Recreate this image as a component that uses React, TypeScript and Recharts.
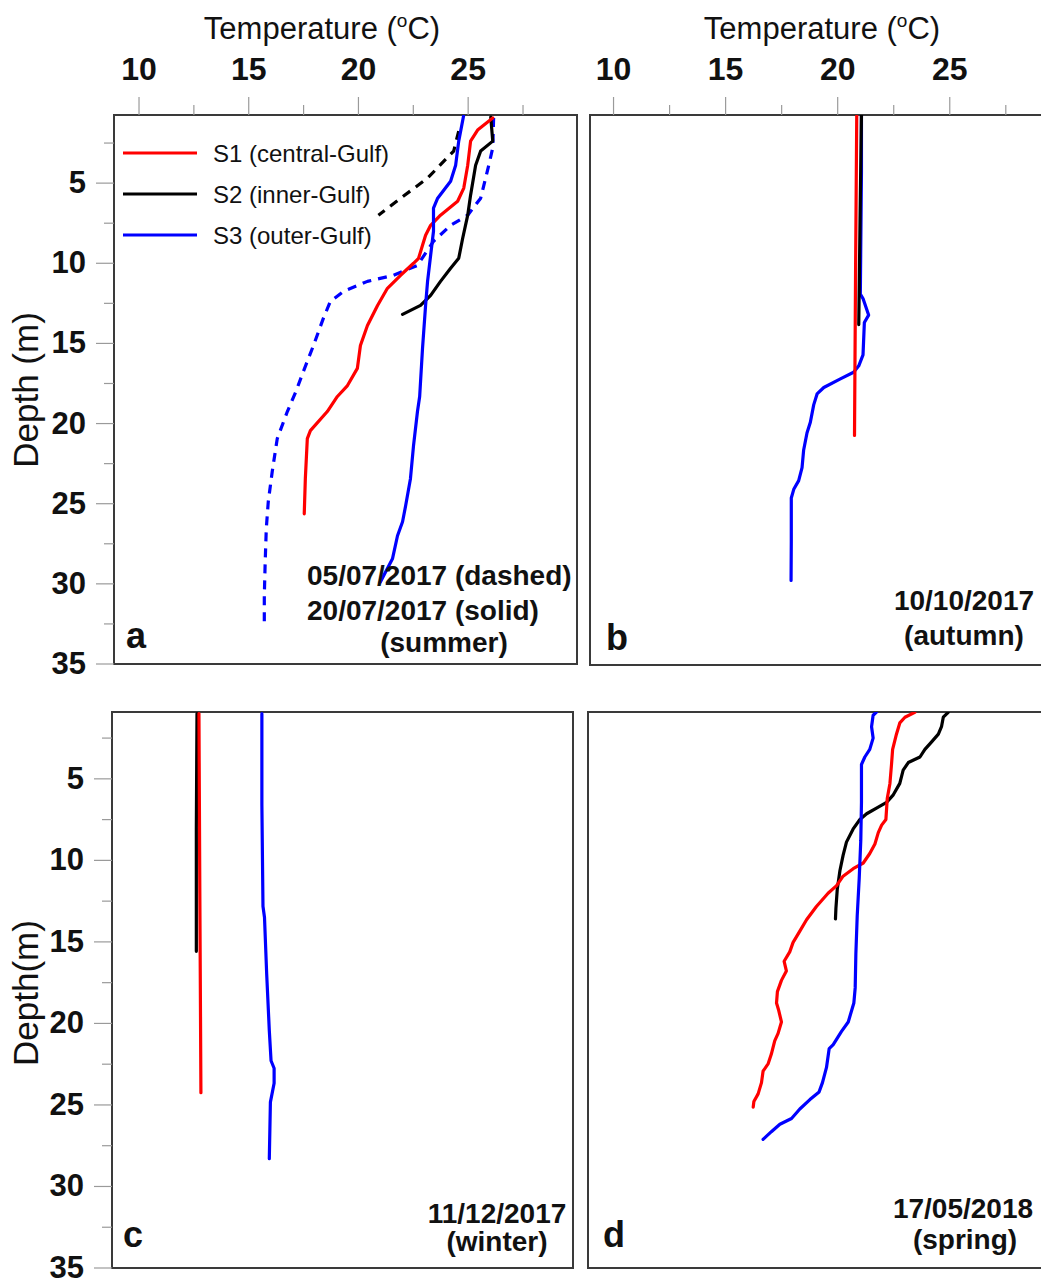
import React from "react";
import { ScatterChart, Scatter, XAxis, YAxis, ReferenceArea } from "recharts";

// temperature (°C), depth (m) pairs
const julS1Solid: [number, number][] = [
  [26.12, 0.94], [25.43, 1.69], [25.11, 2.38], [24.98, 3.88], [24.8, 5.31], [24.52, 6.13], [23.74, 7.0],
  [23.29, 7.63], [23.06, 8.25], [22.92, 8.88], [22.74, 9.69], [22.51, 10.0], [21.92, 10.75], [21.32, 11.56],
  [20.87, 12.63], [20.41, 13.88], [20.09, 15.13], [19.95, 16.56], [19.5, 17.63], [19.04, 18.31], [18.58, 19.25],
  [17.81, 20.44], [17.67, 20.94], [17.58, 23.44], [17.53, 25.63],
];
const julS2Solid: [number, number][] = [
  [26.03, 0.88], [26.12, 2.38], [25.57, 3.0], [25.34, 3.88], [25.11, 5.75], [24.98, 7.0], [24.75, 8.44],
  [24.57, 9.69], [24.2, 10.31], [23.74, 11.13], [23.29, 12.0], [22.83, 12.63], [22.01, 13.19],
];
const julS3Solid: [number, number][] = [
  [24.79, 0.81], [24.57, 2.38], [24.43, 3.88], [24.2, 4.88], [23.61, 5.94], [23.42, 6.56], [23.42, 8.0],
  [23.29, 9.5], [23.15, 11.13], [23.06, 12.63], [22.92, 15.31], [22.79, 18.31], [22.69, 19.25], [22.51, 21.38],
  [22.37, 23.44], [22.15, 25.13], [22.01, 26.13], [21.78, 27.0], [21.55, 28.44], [21.0, 29.88],
];
const julS2Dashed: [number, number][] = [
  [24.57, 1.75], [24.34, 3.0], [23.15, 4.69], [21.92, 5.94], [20.91, 7.0],
];
const julS3Dashed: [number, number][] = [
  [26.16, 0.94], [26.12, 2.81], [25.94, 3.88], [25.57, 5.94], [24.98, 7.0], [24.2, 7.63], [23.42, 8.63],
  [22.69, 10.13], [21.6, 10.75], [20.41, 11.13], [19.32, 11.75], [18.72, 12.38], [18.4, 13.44], [17.95, 15.13],
  [17.49, 16.75], [17.15, 18.0], [16.76, 19.25], [16.3, 20.94], [16.07, 23.0], [15.89, 24.88], [15.8, 26.56],
  [15.75, 28.63], [15.71, 30.75], [15.71, 32.5],
];

const octS1: [number, number][] = [[20.85, 0.8], [20.8, 10.0], [20.75, 20.7]];
const octS2: [number, number][] = [[21.06, 0.75], [21.0, 7.0], [20.94, 13.8]];
const octS3: [number, number][] = [
  [21.06, 0.75], [21.06, 4.35], [21.01, 11.91], [21.13, 12.18], [21.38, 13.21], [21.19, 13.67], [21.13, 15.69],
  [20.94, 16.37], [20.71, 16.77], [20.12, 17.18], [19.38, 17.72], [19.08, 18.12], [18.93, 18.8], [18.78, 19.88],
  [18.63, 20.55], [18.48, 21.63], [18.41, 22.71], [18.26, 23.52], [18.04, 24.06], [17.93, 24.6], [17.93, 27.3],
  [17.92, 29.73],
];

const decS1: [number, number][] = [[12.84, 1.0], [12.88, 12.0], [12.93, 24.25]];
const decS2: [number, number][] = [[12.75, 1.0], [12.72, 8.0], [12.72, 15.58]];
const decS3: [number, number][] = [
  [15.72, 1.0], [15.72, 6.57], [15.77, 12.81], [15.84, 13.5], [15.94, 16.97], [16.06, 20.44], [16.14, 22.29],
  [16.28, 22.75], [16.28, 23.67], [16.11, 24.83], [16.06, 28.3],
];

const mayS1: [number, number][] = [
  [23.58, 0.92], [23.14, 1.22], [22.91, 1.57], [22.76, 2.26], [22.59, 3.19], [22.54, 4.12], [22.47, 5.28],
  [22.35, 6.21], [22.29, 7.49], [22.1, 7.84], [21.95, 8.3], [21.8, 9.0], [21.57, 9.58], [21.28, 10.16],
  [20.83, 10.51], [20.38, 10.97], [20.09, 11.55], [19.71, 12.02], [19.19, 12.83], [18.75, 13.64], [18.45, 14.34],
  [18.15, 15.03], [18.0, 15.61], [17.75, 16.19], [17.85, 16.78], [17.63, 17.36], [17.45, 18.05], [17.41, 18.75],
  [17.51, 19.21], [17.63, 19.91], [17.48, 20.61], [17.33, 21.07], [17.18, 21.88], [17.04, 22.46], [16.81, 22.93],
  [16.74, 23.63], [16.59, 24.32], [16.4, 24.79], [16.37, 25.13],
];
const mayS2: [number, number][] = [
  [25.07, 0.92], [24.85, 1.22], [24.77, 1.8], [24.63, 2.26], [24.33, 2.73], [24.03, 3.19], [23.81, 3.66],
  [23.29, 4.0], [23.06, 4.47], [22.91, 5.28], [22.62, 5.98], [22.32, 6.44], [21.87, 6.79], [21.43, 7.14],
  [21.13, 7.49], [20.83, 8.07], [20.53, 8.88], [20.38, 9.69], [20.24, 10.62], [20.12, 11.78], [20.06, 12.94],
  [20.04, 13.59],
];
const mayS3: [number, number][] = [
  [21.87, 0.9], [21.72, 1.1], [21.65, 1.8], [21.72, 2.5], [21.57, 3.19], [21.35, 3.66], [21.2, 4.12],
  [21.2, 6.44], [21.17, 8.76], [21.1, 11.09], [21.01, 13.41], [20.95, 15.73], [20.92, 17.82], [20.86, 18.75],
  [20.61, 19.91], [20.31, 20.49], [19.94, 21.3], [19.76, 21.54], [19.64, 22.7], [19.46, 23.63], [19.31, 24.2],
  [18.9, 24.67], [18.45, 25.25], [18.08, 25.83], [17.56, 26.18], [17.18, 26.64], [16.81, 27.11],
];

const tempTicks = [10, 12.5, 15, 17.5, 20, 22.5, 25, 27.5];
const depthTicks = [2.5, 5, 7.5, 10, 12.5, 15, 17.5, 20, 22.5, 25, 27.5, 30, 32.5, 35];
const legendItems = ["S1 (central-Gulf)", "S2 (inner-Gulf)", "S3 (outer-Gulf)"];

const RED = "#ff0000";
const BLACK = "#000000";
const BLUE = "#0000ff";
const FONT = "'Liberation Sans', Arial, Helvetica, sans-serif";

const toPts = (arr: [number, number][]) => arr.map(([t, d]) => ({ t, d }));

type Series = { data: [number, number][]; color: string; dash?: string };

const TopTick = (props: any) => {
  const { x, y, payload } = props;
  const major = payload.value % 5 === 0;
  return (
    <g>
      <line x1={x} x2={x} y1={y} y2={y - (major ? 18 : 10)} stroke="#9a9a9a" strokeWidth={1.2} />
      {major && (
        <text x={x} y={y - 35} textAnchor="middle" fontFamily={FONT} fontWeight="bold" fontSize={32} fill="#111">
          {payload.value}
        </text>
      )}
    </g>
  );
};

const LeftTick = (props: any) => {
  const { x, y, payload } = props;
  const major = payload.value % 5 === 0;
  return (
    <g>
      <line x1={x} x2={x - (major ? 18 : 10)} y1={y} y2={y} stroke="#9a9a9a" strokeWidth={1.2} />
      {major && (
        <text x={x - 28} y={y + 10} textAnchor="end" fontFamily={FONT} fontWeight="bold" fontSize={31} fill="#111">
          {payload.value}
        </text>
      )}
    </g>
  );
};

function Panel({ box, margin, xDomain, yDomain, topAxis, leftAxis, series }: any) {
  return (
    <div style={{ position: "absolute", left: box.left, top: box.top }}>
      <ScatterChart width={box.width} height={box.height} margin={margin}>
        <XAxis
          type="number"
          dataKey="t"
          orientation="top"
          domain={xDomain}
          allowDataOverflow
          ticks={tempTicks}
          interval={0}
          hide={!topAxis}
          height={40}
          tickSize={0}
          tickMargin={0}
          axisLine={false}
          tickLine={false}
          tick={(p: any) => <TopTick {...p} />}
        />
        <YAxis
          type="number"
          dataKey="d"
          reversed
          domain={yDomain}
          allowDataOverflow
          ticks={depthTicks}
          interval={0}
          hide={!leftAxis}
          width={60}
          tickSize={0}
          tickMargin={0}
          axisLine={false}
          tickLine={false}
          tick={(p: any) => <LeftTick {...p} />}
        />
        {series.map((s: Series, i: number) => (
          <Scatter
            key={i}
            data={toPts(s.data)}
            fill={s.color}
            line={{ stroke: s.color, strokeWidth: 3.2, strokeDasharray: s.dash, strokeLinejoin: "round", strokeLinecap: s.dash ? "butt" : "round" }}
            shape={() => <g />}
            isAnimationActive={false}
          />
        ))}
        <ReferenceArea
          x1={xDomain[0]}
          x2={xDomain[1]}
          y1={yDomain[0]}
          y2={yDomain[1]}
          fill="none"
          stroke="#3a3a3a"
          strokeWidth={2}
          ifOverflow="visible"
        />
      </ScatterChart>
    </div>
  );
}

const Title = ({ x, y }: { x: number; y: number }) => (
  <text x={x} y={y} textAnchor="middle" fontFamily={FONT} fontSize={31} fill="#111">
    Temperature (<tspan fontSize={19} dy={-12}>o</tspan>
    <tspan dy={12}>C)</tspan>
  </text>
);

const bold = { fontFamily: FONT, fontWeight: "bold" as const, fill: "#111" };

export default function App() {
  return (
    <div style={{ position: "absolute", left: 0, top: 0, width: 1041, height: 1284, overflow: "hidden", background: "#fff" }}>
      <Panel
        box={{ left: 0, top: 0, width: 590, height: 684 }}
        margin={{ top: 75, left: 54, right: 13, bottom: 20 }}
        xDomain={[8.86, 29.96]}
        yDomain={[0.75, 35]}
        topAxis
        leftAxis
        series={[
          { data: julS2Dashed, color: BLACK, dash: "9 7" },
          { data: julS3Dashed, color: BLUE, dash: "9 7" },
          { data: julS2Solid, color: BLACK },
          { data: julS1Solid, color: RED },
          { data: julS3Solid, color: BLUE },
        ]}
      />
      <Panel
        box={{ left: 580, top: 0, width: 484, height: 684 }}
        margin={{ top: 75, left: 10, right: 10, bottom: 19 }}
        xDomain={[8.95, 29.65]}
        yDomain={[0.75, 35]}
        topAxis
        leftAxis={false}
        series={[
          { data: octS3, color: BLUE },
          { data: octS2, color: BLACK },
          { data: octS1, color: RED },
        ]}
      />
      <Panel
        box={{ left: 0, top: 700, width: 590, height: 584 }}
        margin={{ top: 12, left: 52, right: 17, bottom: 16 }}
        xDomain={[8.86, 29.96]}
        yDomain={[0.9, 35]}
        topAxis={false}
        leftAxis
        series={[
          { data: decS2, color: BLACK },
          { data: decS1, color: RED },
          { data: decS3, color: BLUE },
        ]}
      />
      <Panel
        box={{ left: 578, top: 700, width: 486, height: 584 }}
        margin={{ top: 12, left: 10, right: 12, bottom: 16 }}
        xDomain={[9.0, 29.7]}
        yDomain={[0.9, 35]}
        topAxis={false}
        leftAxis={false}
        series={[
          { data: mayS2, color: BLACK },
          { data: mayS1, color: RED },
          { data: mayS3, color: BLUE },
        ]}
      />
      <svg width={1041} height={1284} style={{ position: "absolute", left: 0, top: 0, pointerEvents: "none" }}>
        <Title x={322} y={39} />
        <Title x={822} y={39} />
        <text transform="translate(38,390) rotate(-90)" textAnchor="middle" fontFamily={FONT} fontSize={35} fill="#111">
          Depth (m)
        </text>
        <text transform="translate(38,993) rotate(-90)" textAnchor="middle" fontFamily={FONT} fontSize={35} fill="#111">
          Depth(m)
        </text>
        {legendItems.map((label, i) => (
          <g key={label}>
            <line x1={123} x2={197} y1={153 + i * 41} y2={153 + i * 41} stroke={[RED, BLACK, BLUE][i]} strokeWidth={3} />
            <text x={213} y={162 + i * 41} fontFamily={FONT} fontSize={24} fill="#111">
              {label}
            </text>
          </g>
        ))}
        <text x={307} y={585} fontSize={28} {...bold}>05/07/2017 (dashed)</text>
        <text x={307} y={620} fontSize={28} {...bold}>20/07/2017 (solid)</text>
        <text x={444} y={652} fontSize={28} textAnchor="middle" {...bold}>(summer)</text>
        <text x={126} y={648} fontSize={36} {...bold}>a</text>

        <text x={964} y={610} fontSize={28} textAnchor="middle" {...bold}>10/10/2017</text>
        <text x={964} y={645} fontSize={28} textAnchor="middle" {...bold}>(autumn)</text>
        <text x={606} y={650} fontSize={36} {...bold}>b</text>

        <text x={497} y={1223} fontSize={28} textAnchor="middle" {...bold}>11/12/2017</text>
        <text x={497} y={1251} fontSize={28} textAnchor="middle" {...bold}>(winter)</text>
        <text x={123} y={1247} fontSize={36} {...bold}>c</text>

        <text x={963} y={1218} fontSize={28} textAnchor="middle" {...bold}>17/05/2018</text>
        <text x={965} y={1249} fontSize={28} textAnchor="middle" {...bold}>(spring)</text>
        <text x={603} y={1247} fontSize={36} {...bold}>d</text>
      </svg>
    </div>
  );
}
